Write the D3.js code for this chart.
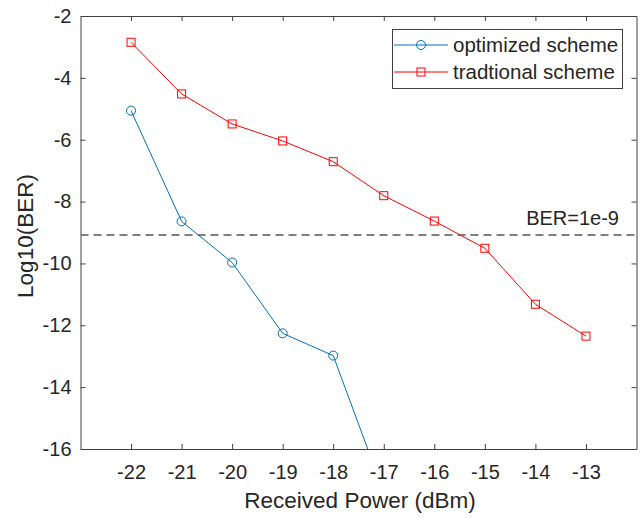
<!DOCTYPE html>
<html>
<head>
<meta charset="utf-8">
<script src="https://cdn.jsdelivr.net/npm/d3@7"></script>
<style>
  body { margin: 0; background: #fff; }
  text { font-family: "Liberation Sans", Arial, sans-serif; fill: #262626; }
</style>
</head>
<body>
<div id="chart"></div>
<script>
// data
const power = [-22, -21, -20, -19, -18, -17, -16, -15, -14, -13];
const optimized = [-5.06, -8.64, -9.97, -12.26, -12.98, -17.4];
const traditional = [-2.85, -4.52, -5.49, -6.04, -6.71, -7.81, -8.63, -9.51, -11.32, -12.35];
const berLimit = -9.08;
const xTicks = [-22, -21, -20, -19, -18, -17, -16, -15, -14, -13];
const yTicks = [-16, -14, -12, -10, -8, -6, -4, -2];

const w = 641, h = 518;
const m = {left: 80.5, right: 636.5, top: 16, bottom: 449};

const svg = d3.select("#chart").append("svg")
  .attr("width", w)
  .attr("height", h);

const x = d3.scaleLinear().domain([-23, -12]).range([m.left, m.right]);
const y = d3.scaleLinear().domain([-16, -2]).range([m.bottom, m.top]);

svg.append("defs").append("clipPath").attr("id", "clip")
  .append("rect")
  .attr("x", m.left).attr("y", m.top)
  .attr("width", m.right - m.left).attr("height", m.bottom - m.top);

// axes (plain hyphen for minus, like the original)
const fmt = function(d) { return String(d); };
const axisColor = "#404040";
const xAxis = svg.append("g")
  .attr("transform", "translate(0," + m.bottom + ")")
  .call(d3.axisBottom(x).tickValues(xTicks).tickFormat(fmt).tickSizeInner(-5).tickSizeOuter(0).tickPadding(16));
const yAxis = svg.append("g")
  .attr("transform", "translate(" + m.left + ",0)")
  .call(d3.axisLeft(y).tickValues(yTicks).tickFormat(fmt).tickSizeInner(-5).tickSizeOuter(0).tickPadding(9));
const xTop = svg.append("g")
  .attr("transform", "translate(0," + m.top + ")")
  .call(d3.axisTop(x).tickValues(xTicks).tickSizeInner(-5).tickSizeOuter(0).tickFormat(""));
const yRight = svg.append("g")
  .attr("transform", "translate(" + m.right + ",0)")
  .call(d3.axisRight(y).tickValues(yTicks).tickSizeInner(-5).tickSizeOuter(0).tickFormat(""));

[xAxis, yAxis, xTop, yRight].forEach(function(g) {
  g.select(".domain").attr("stroke", axisColor).attr("stroke-width", 1);
  g.selectAll(".tick line").attr("stroke", axisColor);
  g.selectAll(".tick text").attr("font-size", "20px").attr("fill", "#262626")
    .style("font-family", "Liberation Sans, Arial, sans-serif");
});

// labels
svg.append("text")
  .attr("x", 360)
  .attr("y", 508)
  .attr("text-anchor", "middle")
  .attr("font-size", "22.5px")
  .text("Received Power (dBm)");

svg.append("text")
  .attr("transform", "translate(33,236) rotate(-90)")
  .attr("text-anchor", "middle")
  .attr("font-size", "22.5px")
  .text("Log10(BER)");

const plot = svg.append("g").attr("clip-path", "url(#clip)");

// BER threshold
plot.append("line")
  .attr("x1", m.left).attr("x2", m.right)
  .attr("y1", y(berLimit)).attr("y2", y(berLimit))
  .attr("stroke", "#808080")
  .attr("stroke-width", 2)
  .attr("stroke-dasharray", "8,5");

svg.append("text")
  .attr("x", 619)
  .attr("y", 225)
  .attr("text-anchor", "end")
  .attr("font-size", "20px")
  .text("BER=1e-9");

const blue = "#0072BD", red = "#FF0000";
const line = d3.line()
  .x(function(d) { return x(d[0]); })
  .y(function(d) { return y(d[1]); });

const optData = optimized.map(function(v, i) { return [power[i], v]; });
const tradData = traditional.map(function(v, i) { return [power[i], v]; });

plot.append("path")
  .datum(optData)
  .attr("d", line)
  .attr("fill", "none")
  .attr("stroke", blue)
  .attr("stroke-width", 1);

plot.selectAll("circle.opt")
  .data(optData)
  .enter()
  .append("circle")
  .attr("class", "opt")
  .attr("cx", function(d) { return x(d[0]); })
  .attr("cy", function(d) { return y(d[1]); })
  .attr("r", 4.5)
  .attr("fill", "none")
  .attr("stroke", blue);

plot.append("path")
  .datum(tradData)
  .attr("d", line)
  .attr("fill", "none")
  .attr("stroke", red)
  .attr("stroke-width", 1);

plot.selectAll("rect.trad")
  .data(tradData)
  .enter()
  .append("rect")
  .attr("class", "trad")
  .attr("x", function(d) { return x(d[0]) - 4; })
  .attr("y", function(d) { return y(d[1]) - 4; })
  .attr("width", 8)
  .attr("height", 8)
  .attr("fill", "none")
  .attr("stroke", red);

// legend
const lg = svg.append("g");
lg.append("rect")
  .attr("x", 392.5).attr("y", 29.5)
  .attr("width", 230).attr("height", 59)
  .attr("fill", "#fff")
  .attr("stroke", axisColor);

const legendItems = [
  { name: "optimized scheme", color: blue, mark: "circle" },
  { name: "tradtional scheme", color: red, mark: "square" }
];
legendItems.forEach(function(d, i) {
  const yy = 45 + i * 27;
  lg.append("line")
    .attr("x1", 394).attr("x2", 448)
    .attr("y1", yy).attr("y2", yy)
    .attr("stroke", d.color);
  if (d.mark === "circle") {
    lg.append("circle").attr("cx", 421).attr("cy", yy).attr("r", 4.5)
      .attr("fill", "none").attr("stroke", d.color);
  } else {
    lg.append("rect").attr("x", 417).attr("y", yy - 4).attr("width", 8).attr("height", 8)
      .attr("fill", "none").attr("stroke", d.color);
  }
  lg.append("text")
    .attr("x", 453).attr("y", yy + 7)
    .attr("font-size", "20.5px")
    .text(d.name);
});
</script>
</body>
</html>
